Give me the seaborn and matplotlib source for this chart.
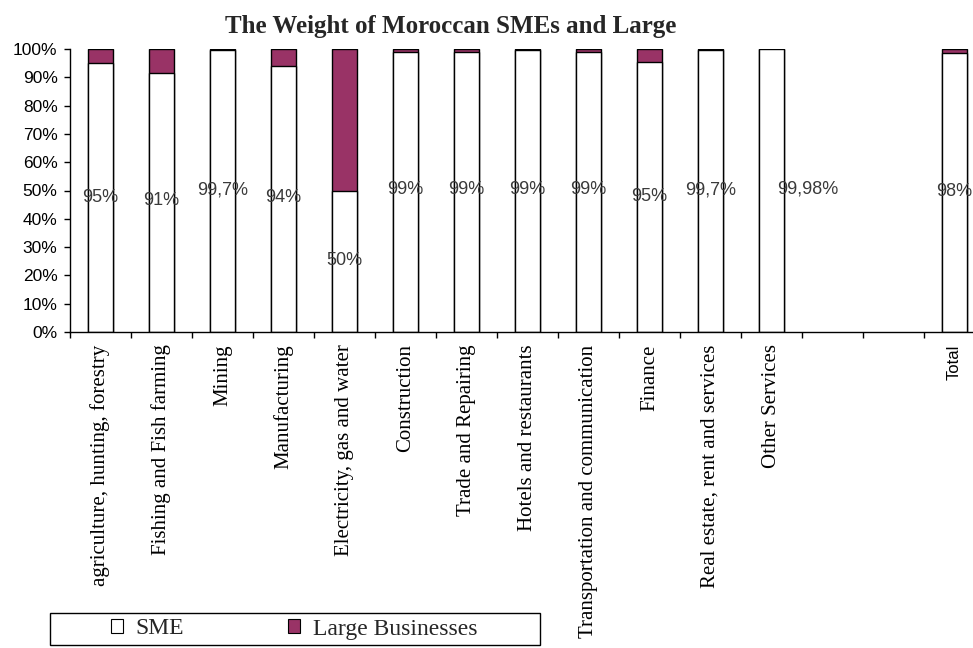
import matplotlib
matplotlib.use("Agg")
import matplotlib.pyplot as plt
import seaborn as sns
import pandas as pd
from matplotlib.patches import Patch, Rectangle
from matplotlib.ticker import PercentFormatter

# sectors as they appear on the x axis (two empty slots sit before "Total")
sectors = [
    "agriculture, hunting, forestry",
    "Fishing and Fish farming",
    "Mining",
    "Manufacturing",
    "Electricity, gas and water",
    "Construction",
    "Trade and Repairing",
    "Hotels and restaurants",
    "Transportation and communication",
    "Finance",
    "Real estate, rent and services",
    "Other Services",
    "Total",
]
sme_share = [95, 91.5, 99.7, 94, 50, 99, 99, 99.5, 99, 95.3, 99.7, 99.98, 98.6]
sme_labels = ["95%", "91%", "99,7%", "94%", "50%", "99%", "99%", "99%", "99%",
              "95%", "99,7%", "99,98%", "98%"]
gap_slots = ["gap_a", "gap_b"]

# where the (hand-placed) data labels sit: height in % and sideways shift
label_y = [47.7, 46.6, 50.2, 47.7, 25.4, 50.2, 50.2, 50.2, 50.2, 48.0, 50.2, 50.5, 49.5]
label_dx = [0, 0, 0, 0, 0, 0, 0, 0, 0, 0, 0, 0.6, 0]

LARGE = "#993366"
W, H = 973, 648

order = sectors[:-1] + gap_slots + sectors[-1:]
df = pd.DataFrame({"sector": sectors, "sme": sme_share})
df["total"] = 100.0

sns.set_theme(style="white")
plt.rcParams["font.family"] = ["Liberation Sans", "DejaVu Sans"]

fig = plt.figure(figsize=(W / 100, H / 100), dpi=100)
ax = fig.add_axes([70 / W, (H - 332) / H, 915 / W, 283 / H])

# stacked look: full bar in the "large" colour, SME share drawn over it in white
sns.barplot(data=df, x="sector", y="total", order=order, color=LARGE, saturation=1,
            edgecolor="black", linewidth=1, width=0.42, errorbar=None, ax=ax)
sns.barplot(data=df, x="sector", y="sme", order=order, color="white", saturation=1,
            edgecolor="black", linewidth=1, width=0.42, errorbar=None, ax=ax)

ax.set_xlim(-0.5, len(order) - 0.5)
ax.set_ylim(0, 100)
ax.set_xlabel("")
ax.set_ylabel("")
sns.despine(ax=ax)
for side in ("left", "bottom"):
    ax.spines[side].set_color("black")
    ax.spines[side].set_linewidth(1)

ax.set_yticks(range(0, 101, 10))
ax.yaxis.set_major_formatter(PercentFormatter(100, decimals=0))
ax.tick_params(axis="y", left=True, direction="out", length=4, width=1,
               color="black", pad=5, labelsize=12.5, labelcolor="black")

pos = [order.index(s) for s in sectors]
ax.set_xticks(pos, sectors, rotation=90, fontfamily="Liberation Serif", fontsize=15)
ax.set_xticks([i - 0.5 for i in range(len(order))], minor=True)
ax.tick_params(axis="x", which="major", length=0, pad=9, labelcolor="black")
ax.tick_params(axis="x", which="minor", bottom=True, direction="out", length=4,
               width=1, color="black")
tot = ax.get_xticklabels()[-1]
tot.set_fontfamily("Liberation Sans")
tot.set_fontsize(12)

for p, txt, yy, dx in zip(pos, sme_labels, label_y, label_dx):
    ax.text(p + dx, yy, txt, ha="center", va="center", fontsize=13, color="#3a3a3a")

fig.text(451 / W, 1 - 27 / H, "The Weight of Moroccan SMEs and Large", ha="center",
         va="center", fontsize=18, fontweight="bold", fontfamily="Liberation Serif")

# legend box drawn separately so its width can match the original
fig.patches.append(Rectangle((50 / W, 3 / H), 490 / W, 32 / H, transform=fig.transFigure,
                             facecolor="white", edgecolor="black", linewidth=1))
handles = [Patch(facecolor="white", edgecolor="black", linewidth=0.8),
           Patch(facecolor=LARGE, edgecolor="black", linewidth=0.8)]
fig.legend(handles, ["SME", "Large Businesses"], loc="center",
           bbox_to_anchor=(294 / W, 1 - 629 / H), ncol=2, frameon=False,
           handlelength=0.5, handleheight=0.5, handletextpad=0.55, columnspacing=4.4,
           prop={"family": "Liberation Serif", "size": 17})

fig.savefig("out.png", dpi=100)
